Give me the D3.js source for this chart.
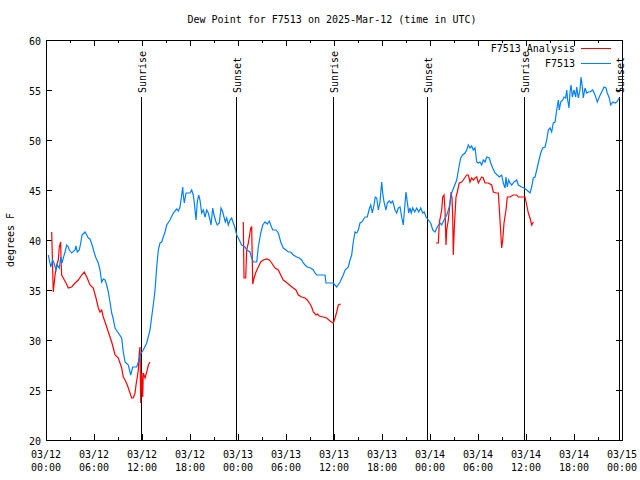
<!DOCTYPE html>
<html><head><meta charset="utf-8">
<script src="https://cdn.jsdelivr.net/npm/d3@7"></script>
<style>
html,body{margin:0;padding:0;background:#fff;}
svg text{font-family:"DejaVu Sans Mono","Liberation Mono",monospace;font-size:10px;fill:#000;}
</style></head><body>
<svg id="chart" width="640" height="480"></svg>
<script>
// ---- data (hours since 2025-03-12 00:00 UTC, dew point in °F) ----
const obsHours = [0.29,0.59,0.84,1.0,1.25,1.41,1.66,1.84,2.0,2.16,2.38,2.59,2.79,2.91,3.21,3.63,3.75,3.91,4.16,4.34,4.5,4.75,4.88,5.09,5.29,5.5,5.84,6.0,6.25,6.54,6.75,6.96,7.16,7.38,7.59,7.79,8.0,8.21,8.38,8.63,9.04,9.46,9.66,9.88,10.29,10.59,10.84,11.34,11.54,11.75,12.16,12.59,13.0,13.21,13.41,13.63,13.84,14.04,14.25,14.46,14.66,14.88,15.09,15.5,15.91,16.34,16.54,16.75,16.96,17.09,17.16,17.29,17.5,17.79,18.0,18.21,18.41,18.54,18.75,18.91,19.09,19.25,19.46,19.66,19.88,20.09,20.29,20.5,20.63,20.84,21.0,21.25,21.41,21.66,21.88,22.09,22.25,22.41,22.59,22.79,23.0,23.21,23.41,23.63,23.84,24.04,24.46,24.88,25.09,25.5,25.71,25.91,26.34,26.54,26.84,27.09,27.38,27.66,27.91,28.09,28.34,28.75,29.04,29.34,29.66,30.0,30.29,30.59,30.91,31.34,31.66,31.96,32.16,32.38,32.66,33.09,33.41,33.63,33.84,34.88,35.0,35.91,36.34,36.75,37.16,37.38,37.79,38.0,38.21,38.41,38.63,38.84,39.04,39.25,39.46,39.88,40.16,40.41,40.59,40.79,41.0,41.16,41.34,41.54,41.75,41.96,42.09,42.25,42.5,42.66,42.91,43.13,43.34,43.63,43.84,44.04,44.25,44.46,44.66,44.88,45.0,45.16,45.34,45.5,45.66,45.84,46.09,46.34,46.59,46.84,47.09,47.29,47.5,47.79,48.09,48.34,48.63,48.91,49.25,49.46,49.75,50.09,50.41,50.71,51.0,51.34,51.66,51.84,52.09,52.38,52.59,52.79,53.0,53.21,53.41,53.63,53.84,54.04,54.25,54.46,54.66,54.88,55.09,55.41,55.59,55.84,56.13,56.41,56.66,56.96,57.16,57.38,57.5,57.66,57.84,58.0,58.21,58.5,58.84,59.04,59.46,59.75,60.09,60.5,60.71,60.91,61.13,61.34,61.54,61.84,62.09,62.38,62.59,62.79,63.0,63.21,63.41,63.63,63.84,64.04,64.16,64.34,64.59,64.75,64.96,65.09,65.21,65.38,65.5,65.63,65.79,66.0,66.21,66.34,66.54,66.75,66.88,67.04,67.16,67.38,67.59,67.79,68.0,68.34,68.63,68.91,69.16,69.46,69.75,70.0,70.16,70.41,70.59,70.84,71.13,71.34,71.66];
const obsDew = [38.5,37.3,38.0,37.7,37.0,37.5,37.2,38.3,37.7,38.2,38.8,39.5,39.3,39.0,38.7,39.0,39.4,38.8,39.0,39.7,40.5,40.7,40.8,40.5,40.2,40.1,39.3,38.8,38.2,37.7,37.0,35.8,36.1,36.0,35.5,34.8,33.8,32.7,32.2,31.2,30.7,30.2,28.8,27.8,27.5,26.5,27.3,27.3,27.8,28.5,29.0,29.7,31.0,32.3,33.5,35.0,37.3,39.0,39.7,39.8,40.3,40.8,41.5,42.0,42.7,43.1,42.9,43.3,44.5,45.3,44.5,43.7,44.7,44.7,44.7,45.0,44.5,43.7,42.0,43.8,44.5,44.0,42.7,43.0,42.3,43.0,42.7,42.0,41.5,43.2,42.5,41.8,41.5,41.7,43.2,42.8,42.3,41.8,42.2,41.5,42.0,42.2,41.7,41.2,40.5,40.2,39.5,39.3,39.0,38.8,38.2,37.8,37.8,39.3,40.7,41.5,41.8,41.6,41.9,41.5,41.0,41.0,40.7,39.8,39.2,39.0,38.8,38.8,38.5,38.3,38.2,38.0,37.7,37.5,37.3,37.2,37.0,36.7,36.5,36.5,35.7,35.7,35.3,35.8,36.5,37.0,37.3,38.0,38.5,39.8,40.8,40.7,41.0,41.7,41.8,42.3,42.3,43.1,43.5,42.7,43.5,44.3,44.2,43.0,43.8,45.8,44.7,43.8,43.0,43.7,43.9,43.7,43.9,43.0,42.7,43.2,43.3,42.3,41.5,43.7,44.8,43.8,42.7,43.2,42.7,43.2,42.8,43.2,42.8,43.2,42.7,42.8,42.3,42.0,41.7,41.0,40.8,41.3,41.7,41.5,42.0,42.5,43.3,44.7,45.3,46.0,47.5,48.2,48.5,48.7,49.0,49.5,49.2,49.4,49.0,49.2,47.8,47.7,47.8,47.5,48.0,47.8,48.3,48.2,47.7,47.2,46.7,46.5,46.3,46.5,45.7,45.2,46.3,45.3,46.0,45.7,45.5,45.8,46.0,45.5,45.3,45.2,45.0,44.7,45.3,46.2,46.3,47.0,47.7,48.7,49.2,49.3,50.0,51.0,51.2,50.8,51.7,51.8,53.0,54.0,53.0,53.8,54.0,54.3,54.2,55.0,54.0,53.2,54.8,55.5,54.3,55.0,54.3,55.3,54.2,55.0,56.3,55.3,54.2,55.2,54.7,54.8,54.8,55.0,54.5,53.8,54.3,54.8,55.3,55.2,54.7,54.2,53.5,53.8,53.7,53.8,54.2];

// analysis series; null marks a gap between runs
const anaHours = [0.71,0.91,1.13,1.34,1.54,1.66,1.84,1.88,1.96,2.16,2.5,2.79,3.21,3.63,4.04,4.46,4.79,5.09,5.5,5.91,6.25,6.54,6.75,6.96,7.16,7.38,7.59,7.79,8.0,8.21,8.41,8.63,9.04,9.25,9.46,9.66,9.88,10.16,10.5,10.71,10.91,11.13,11.25,11.41,11.54,11.66,11.75,11.84,11.96,12.09,12.16,12.38,12.59,12.79,13.0,
  18.0,
  24.66,24.75,24.96,25.09,25.29,25.41,25.59,25.71,25.84,26.0,26.25,26.54,26.84,27.16,27.59,27.91,28.21,28.63,29.04,29.34,29.66,30.0,30.29,30.59,30.91,31.25,31.54,31.96,32.38,32.66,33.0,33.21,33.41,33.75,33.91,34.16,34.66,35.09,35.5,35.91,36.13,36.34,36.54,36.84,
  42.0,
  48.75,49.04,49.16,49.46,49.59,49.75,49.88,50.0,50.09,50.29,50.41,50.5,50.63,50.75,50.84,50.91,51.04,51.25,51.41,51.66,51.96,52.16,52.59,52.79,53.0,53.21,53.41,53.63,53.84,54.04,54.25,54.46,54.66,54.88,55.29,55.71,55.91,56.25,56.54,56.75,56.96,57.09,57.25,57.5,57.66,58.0,58.41,58.84,59.04,59.46,59.88,60.09,60.29,60.5,60.71,60.91];
const anaDew = [40.8,34.8,36.5,37.5,38.0,39.3,39.8,37.8,36.5,36.2,35.7,35.2,35.3,35.7,36.0,36.5,36.8,36.3,35.5,35.2,34.2,33.2,32.8,33.0,32.3,31.8,31.3,30.8,30.3,29.8,29.2,28.5,28.2,27.7,27.2,26.3,26.0,25.5,24.7,24.2,24.2,24.7,25.5,26.3,27.0,28.7,29.3,23.7,26.7,24.3,26.7,26.2,26.8,27.5,27.8,
  null,
  41.8,36.2,36.2,39.0,39.7,40.3,41.2,41.3,35.6,36.2,36.8,37.3,37.8,38.0,38.1,38.0,37.7,37.2,37.0,36.5,36.0,35.8,35.6,35.4,35.2,35.0,34.5,34.3,34.2,34.0,33.6,33.3,32.8,32.5,32.6,32.4,32.3,32.2,31.9,31.7,32.2,32.8,33.5,33.6,
  null,
  39.7,39.7,41.7,43.0,44.3,44.5,43.0,39.5,41.0,42.0,43.0,43.7,44.8,44.2,42.3,38.5,41.3,44.3,44.8,45.7,45.8,46.0,46.5,46.5,45.8,46.2,46.0,46.2,46.3,45.7,46.0,46.3,46.2,45.7,45.7,45.5,44.8,44.7,44.7,42.0,39.2,40.0,41.7,43.0,44.3,44.3,44.5,44.5,44.3,44.3,44.3,43.5,42.7,42.2,41.5,41.8];

const sunEvents = ["Sunrise","Sunset","Sunrise","Sunset","Sunrise","Sunset"];
const sunHours = [11.91,23.69,35.91,47.66,59.79,71.6];

const yTicks = [20,25,30,35,40,45,50,55,60];
const xTickHours = [0,6,12,18,24,30,36,42,48,54,60,66,72];
const xTickDates = ["03/12","03/12","03/12","03/12","03/13","03/13","03/13","03/13","03/14","03/14","03/14","03/14","03/15"];
const xTickTimes = ["00:00","06:00","12:00","18:00","00:00","06:00","12:00","18:00","00:00","06:00","12:00","18:00","00:00"];
const seriesNames = ["F7513 Analysis","F7513"];
const seriesColors = ["#ff0000","#0080ff"];

// ---- layout ----
const L = 46, R = 622, T = 40, B = 440;
const svg = d3.select("#chart");
const x = d3.scaleLinear().domain([0,72]).range([L,R]);
const y = d3.scaleLinear().domain([20,60]).range([B,T]);

svg.append("text").attr("x",332).attr("y",23).attr("text-anchor","middle")
  .text("Dew Point for F7513 on 2025-Mar-12 (time in UTC)");

svg.append("text").attr("transform","translate(14,240) rotate(-90)")
  .attr("text-anchor","middle").text("degrees F");

const g = svg.append("g").attr("shape-rendering","crispEdges");
yTicks.forEach(v=>{
  const yy = Math.round(y(v))+0.5;
  g.append("line").attr("x1",L).attr("x2",L+6).attr("y1",yy).attr("y2",yy).attr("stroke","#000");
  g.append("line").attr("x1",R-6).attr("x2",R).attr("y1",yy).attr("y2",yy).attr("stroke","#000");
  svg.append("text").attr("x",L-5).attr("y",yy+4).attr("text-anchor","end").text(v);
});
d3.range(0,73,3).forEach(h=>{
  const xx = Math.round(x(h))+0.5;
  const len = (h%6===0)?6:3;
  g.append("line").attr("x1",xx).attr("x2",xx).attr("y1",B).attr("y2",B-len).attr("stroke","#000");
  g.append("line").attr("x1",xx).attr("x2",xx).attr("y1",T).attr("y2",T+len).attr("stroke","#000");
});
xTickHours.forEach((h,i)=>{
  const xx = x(h);
  svg.append("text").attr("x",xx).attr("y",458).attr("text-anchor","middle").text(xTickDates[i]);
  svg.append("text").attr("x",xx).attr("y",471).attr("text-anchor","middle").text(xTickTimes[i]);
});

sunHours.forEach((h,i)=>{
  const xx = Math.round(x(h))+0.5;
  g.append("line").attr("x1",xx).attr("x2",xx).attr("y1",97).attr("y2",B).attr("stroke","#000");
  svg.append("text").attr("transform",`translate(${xx+4},93) rotate(-90)`)
    .attr("text-anchor","start").text(sunEvents[i]);
});

const line = d3.line().defined(d=>d[1]!==null).x(d=>x(d[0])).y(d=>y(d[1]));
const anaData = anaHours.map((h,i)=>[h,anaDew[i]]);
const obsData = obsHours.map((h,i)=>[h,obsDew[i]]);
svg.append("path").datum(anaData).attr("d",line).attr("fill","none")
  .attr("stroke",seriesColors[0]).attr("stroke-width",1.2);
svg.append("path").datum(obsData).attr("d",line).attr("fill","none")
  .attr("stroke",seriesColors[1]).attr("stroke-width",1.2);

seriesNames.forEach((n,i)=>{
  const yy = 48 + i*15;
  svg.append("text").attr("x",575).attr("y",yy+4).attr("text-anchor","end").text(n);
  g.append("line").attr("x1",581).attr("x2",611).attr("y1",yy+0.5).attr("y2",yy+0.5)
    .attr("stroke",seriesColors[i]);
});

g.append("rect").attr("x",L+0.5).attr("y",T+0.5).attr("width",R-L).attr("height",B-T)
  .attr("fill","none").attr("stroke","#000");
</script>
</body></html>
